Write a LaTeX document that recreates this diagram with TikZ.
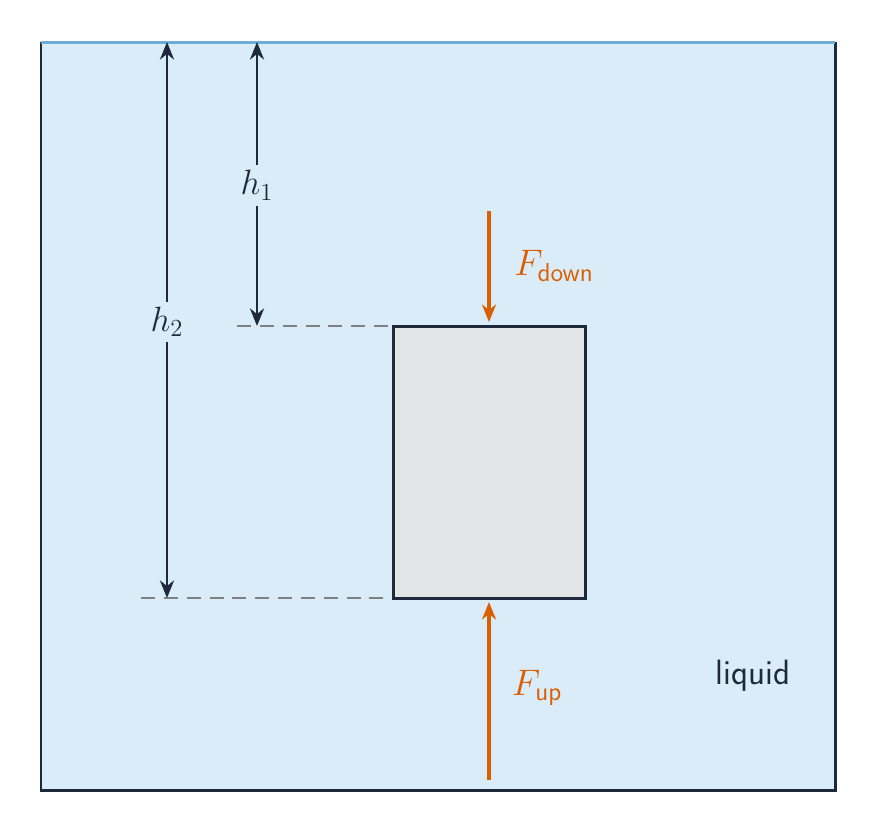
\documentclass[tikz,border=0pt]{standalone}
\usepackage{fix-cm}
\usepackage{amsmath}
\usetikzlibrary{arrows.meta}
\renewcommand{\familydefault}{\sfdefault}
\begin{document}
\begin{tikzpicture}[x=0.02cm,y=-0.02cm,
  dim/.style={draw=ink, line width=1.7pt, {Stealth[length=10pt,width=8pt]}-{Stealth[length=10pt,width=8pt]}},
  force/.style={draw=frc, line width=2pt, -{Stealth[length=10pt,width=8pt]}},
  guide/.style={draw=gray, line width=1pt, dash pattern=on 8pt off 5pt},
  lbl/.style={font=\fontsize{20}{24}\selectfont, text=ink},
  flbl/.style={font=\fontsize{21}{25}\selectfont, text=frc}]
\definecolor{ink}{RGB}{30,41,59}
\definecolor{frc}{RGB}{217,95,2}
\definecolor{liq}{RGB}{219,236,249}
\useasboundingbox (0,0) rectangle (878,833);
\fill[liq] (41,42) rectangle (835,790);
\draw[ink, line width=1.7pt] (41,42) -- (41,790) -- (835,790) -- (835,42);
\draw[draw={rgb,255:red,107;green,174;blue,214}, line width=1.7pt] (41,42) -- (835,42);
\coordinate (bnw) at (393,326); \coordinate (bse) at (585,598);
\coordinate (bsw) at (393,598);
\coordinate (bn) at (489,322); \coordinate (bs) at (489,602);
\coordinate (d1) at (237,326);
\coordinate (d2) at (141,598);
\draw[guide] (d1) -- (bnw);
\draw[guide] (d2) -- (bsw);
\draw[draw=ink, line width=1.7pt, fill={rgb,255:red,227;green,228;blue,230}] (bnw) rectangle (bse);
\coordinate (t1) at (257,42); \coordinate (b1) at (257,326);
\coordinate (t2) at (167,42); \coordinate (b2) at (167,598);
\draw[dim] (t1) -- node[pos=0.505, fill=liq, lbl, inner sep=3pt] (h1) {$h_1$} (b1);
\draw[dim] (t2) -- node[pos=0.503, fill=liq, lbl, inner sep=3pt] (h2) {$h_2$} (b2);
\coordinate (fd) at (489,211);
\coordinate (fu) at (489,780);
\draw[force] (fd) -- (bn);
\draw[force] (fu) -- (bs);
\node[flbl] (Fd) at (554,266) {$F_{\textsf{down}}$};
\node[flbl] (Fu) at (537,688) {$F_{\textsf{up}}$};
\node[lbl] (liq) at (753,676) {liquid};
\end{tikzpicture}
\end{document}
